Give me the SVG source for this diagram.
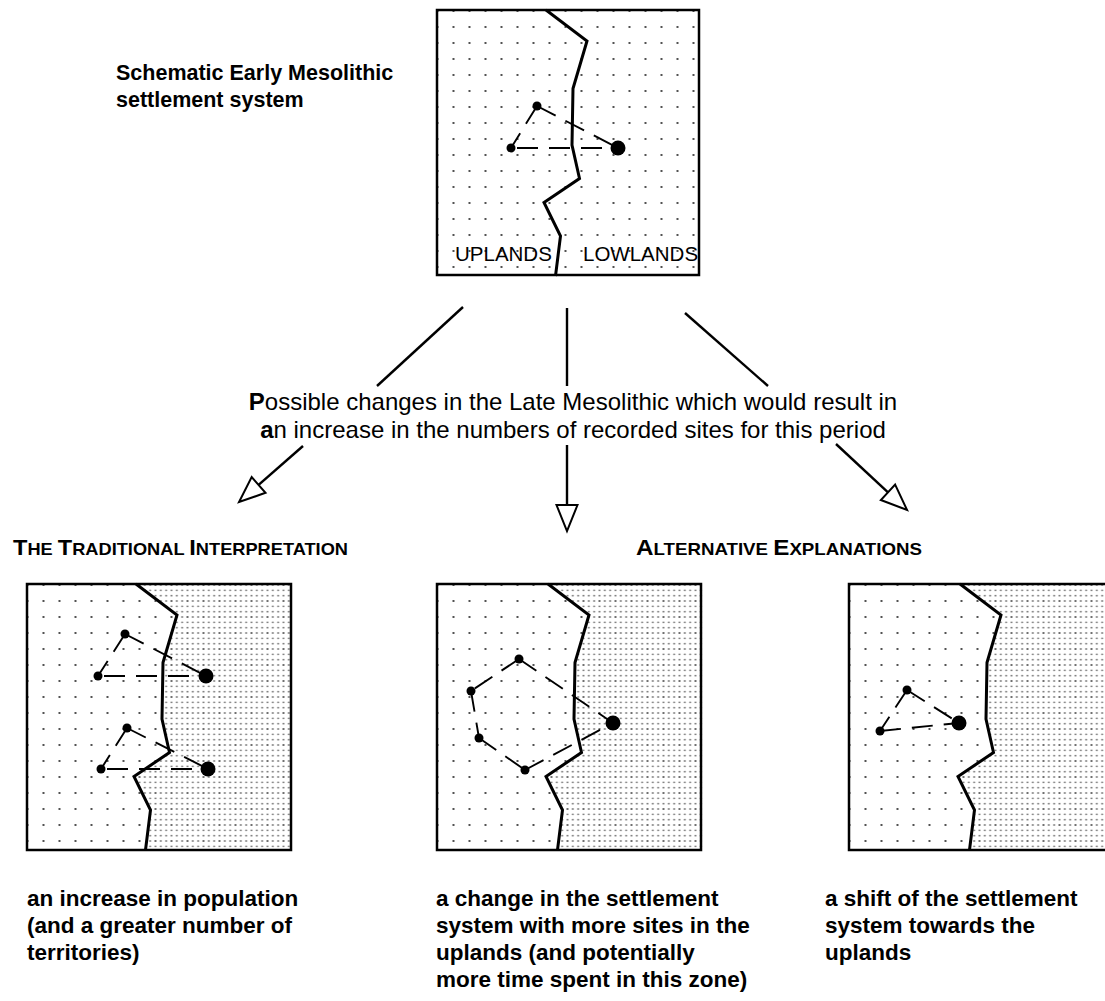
<svg xmlns="http://www.w3.org/2000/svg" width="1105" height="1001" viewBox="0 0 1105 1001">
<style>
text{font-family:"Liberation Sans",Arial,sans-serif;fill:#000}
.title{font-size:21.5px;font-weight:bold}
.mid{font-size:24px}
.head{font-size:17px;font-weight:bold}
.cap{font-size:22px}
.cap2{font-size:22.5px;font-weight:bold}
.zone{font-size:20.5px}
.frame{fill:none;stroke:#000;stroke-width:2.5}
.bound{fill:none;stroke:#000;stroke-width:3;stroke-linejoin:miter}
.link{fill:none;stroke:#000;stroke-width:1.9;stroke-dasharray:21 11}
.site{fill:#000}
.arrow{fill:none;stroke:#000;stroke-width:2.4}
</style>
<defs>
<pattern id="sparse" patternUnits="userSpaceOnUse" x="8.5" y="9" width="16" height="16">
<circle cx="8" cy="8" r="0.9" fill="#000"/>
</pattern>
<pattern id="dense" patternUnits="userSpaceOnUse" x="8.5" y="9" width="16" height="16">
<circle cx="2.67" cy="2.67" r="0.9" fill="#666"/><circle cx="8" cy="2.67" r="0.9" fill="#666"/><circle cx="13.33" cy="2.67" r="0.9" fill="#666"/>
<circle cx="2.67" cy="8" r="0.9" fill="#666"/><circle cx="8" cy="8" r="0.95" fill="#333"/><circle cx="13.33" cy="8" r="0.9" fill="#666"/>
<circle cx="2.67" cy="13.33" r="0.9" fill="#666"/><circle cx="8" cy="13.33" r="0.9" fill="#666"/><circle cx="13.33" cy="13.33" r="0.9" fill="#666"/>
</pattern>
<path id="boundary" d="M109,0 L150,31 L145,48 L136,78.5 L135,135 L142.5,168.5 L107,192.5 L123.5,226 L118.5,266"/>
<path id="lowland" d="M109,0 L150,31 L145,48 L136,78.5 L135,135 L142.5,168.5 L107,192.5 L123.5,226 L118.5,266 L264,266 L264,0 Z"/>
<marker id="hollow" markerUnits="userSpaceOnUse" markerWidth="32" markerHeight="28" viewBox="-3 -14 32 28" refX="0" refY="0" orient="auto" overflow="visible">
<path d="M0,-10.5 L26,0 L0,10.5 Z" fill="#fff" stroke="#000" stroke-width="2" stroke-linejoin="miter"/>
</marker>
</defs>
<rect width="1105" height="1001" fill="#fff"/>

<g id="title">
<text class="title" x="116" y="80">Schematic Early Mesolithic</text>
<text class="title" x="116" y="107">settlement system</text>
</g>

<g id="early-system" transform="translate(437,10)">
<rect x="0" y="0" width="262" height="265" fill="url(#sparse)"/>
<use href="#boundary" class="bound"/>
<line class="link" x1="100" y1="96" x2="181" y2="138"/>
<line class="link" x1="100" y1="96" x2="74" y2="138"/>
<line class="link" x1="74" y1="138" x2="181" y2="138" stroke-dashoffset="-6"/>
<circle class="site" cx="100" cy="96" r="4.5"/>
<circle class="site" cx="74" cy="138" r="4.5"/>
<circle class="site" cx="181" cy="138" r="7.5"/>
<text class="zone" x="18" y="251">UPLANDS</text>
<text class="zone" x="146" y="251">LOWLANDS</text>
<rect class="frame" x="0" y="0" width="262" height="265"/>
</g>

<g id="connectors">
<path class="arrow" d="M463,307 L377,386"/>
<path class="arrow" d="M303,446 L258.6,484.9" marker-end="url(#hollow)"/>
<path class="arrow" d="M567,308 L567,386"/>
<path class="arrow" d="M567,445 L567,505" marker-end="url(#hollow)"/>
<path class="arrow" d="M685,313 L768,386"/>
<path class="arrow" d="M836,444 L888,492.3" marker-end="url(#hollow)"/>
</g>

<g id="question">
<text class="mid" x="573" y="410" text-anchor="middle"><tspan font-weight="bold">P</tspan>ossible changes in the Late Mesolithic which would result in</text>
<text class="mid" x="573" y="438" text-anchor="middle"><tspan font-weight="bold">a</tspan>n increase in the numbers of recorded sites for this period</text>
</g>

<g id="heading-traditional">
<text class="head" x="13" y="555" textLength="335" lengthAdjust="spacingAndGlyphs"><tspan class="cap">T</tspan>HE <tspan class="cap">T</tspan>RADITIONAL <tspan class="cap">I</tspan>NTERPRETATION</text>
</g>
<g id="heading-alternative">
<text class="head" x="636" y="555" textLength="286" lengthAdjust="spacingAndGlyphs"><tspan class="cap">A</tspan>LTERNATIVE <tspan class="cap">E</tspan>XPLANATIONS</text>
</g>

<g id="traditional" transform="translate(27,584)">
<rect x="0" y="0" width="264" height="266" fill="url(#sparse)"/>
<use href="#lowland" fill="#fff"/>
<use href="#lowland" fill="url(#dense)"/>
<use href="#boundary" class="bound"/>
<line class="link" x1="98" y1="50" x2="179" y2="92"/>
<line class="link" x1="98" y1="50" x2="71" y2="92"/>
<line class="link" x1="71" y1="92" x2="179" y2="92" stroke-dashoffset="-6"/>
<line class="link" x1="100" y1="144" x2="181" y2="185"/>
<line class="link" x1="100" y1="144" x2="74" y2="185"/>
<line class="link" x1="74" y1="185" x2="181" y2="185" stroke-dashoffset="-6"/>
<circle class="site" cx="98" cy="50" r="4.5"/>
<circle class="site" cx="71" cy="92" r="4.5"/>
<circle class="site" cx="179" cy="92" r="7.5"/>
<circle class="site" cx="100" cy="144" r="4.5"/>
<circle class="site" cx="74" cy="185" r="4.5"/>
<circle class="site" cx="181" cy="185" r="7.5"/>
<rect class="frame" x="0" y="0" width="264" height="266"/>
</g>

<g id="alt-change" transform="translate(437,584)">
<rect x="0" y="0" width="264" height="266" fill="url(#sparse)"/>
<use href="#lowland" fill="#fff" transform="translate(2,0)"/>
<use href="#lowland" fill="url(#dense)" transform="translate(2,0)"/>
<use href="#boundary" class="bound" transform="translate(2,0)"/>
<line class="link" x1="82" y1="75" x2="34" y2="107"/>
<line class="link" x1="34" y1="107" x2="42" y2="154" stroke-dasharray="12 8"/>
<line class="link" x1="42" y1="154" x2="88" y2="186"/>
<line class="link" x1="88" y1="186" x2="176" y2="139"/>
<line class="link" x1="82" y1="75" x2="176" y2="139"/>
<circle class="site" cx="82" cy="75" r="4.5"/>
<circle class="site" cx="34" cy="107" r="4.5"/>
<circle class="site" cx="42" cy="154" r="4.5"/>
<circle class="site" cx="88" cy="186" r="4.5"/>
<circle class="site" cx="176" cy="139" r="7.5"/>
<rect class="frame" x="0" y="0" width="264" height="266"/>
</g>

<g id="alt-shift" transform="translate(849,584)">
<rect x="0" y="0" width="264" height="266" fill="url(#sparse)"/>
<use href="#lowland" fill="#fff" transform="translate(2,0)"/>
<use href="#lowland" fill="url(#dense)" transform="translate(2,0)"/>
<use href="#boundary" class="bound" transform="translate(2,0)"/>
<line class="link" x1="58" y1="106" x2="110" y2="139"/>
<line class="link" x1="58" y1="106" x2="31" y2="147"/>
<line class="link" x1="31" y1="147" x2="110" y2="139"/>
<circle class="site" cx="58" cy="106" r="4.5"/>
<circle class="site" cx="31" cy="147" r="4.5"/>
<circle class="site" cx="110" cy="139" r="7.5"/>
<rect class="frame" x="0" y="0" width="264" height="266"/>
</g>

<g id="caption-traditional">
<text class="cap2" x="27" y="906">an increase in population</text>
<text class="cap2" x="27" y="933">(and a greater number of</text>
<text class="cap2" x="27" y="960">territories)</text>
</g>
<g id="caption-change">
<text class="cap2" x="436" y="906">a change in the settlement</text>
<text class="cap2" x="436" y="933">system with more sites in the</text>
<text class="cap2" x="436" y="960">uplands (and potentially</text>
<text class="cap2" x="436" y="987">more time spent in this zone)</text>
</g>
<g id="caption-shift">
<text class="cap2" x="825" y="906">a shift of the settlement</text>
<text class="cap2" x="825" y="933">system towards the</text>
<text class="cap2" x="825" y="960">uplands</text>
</g>
</svg>
